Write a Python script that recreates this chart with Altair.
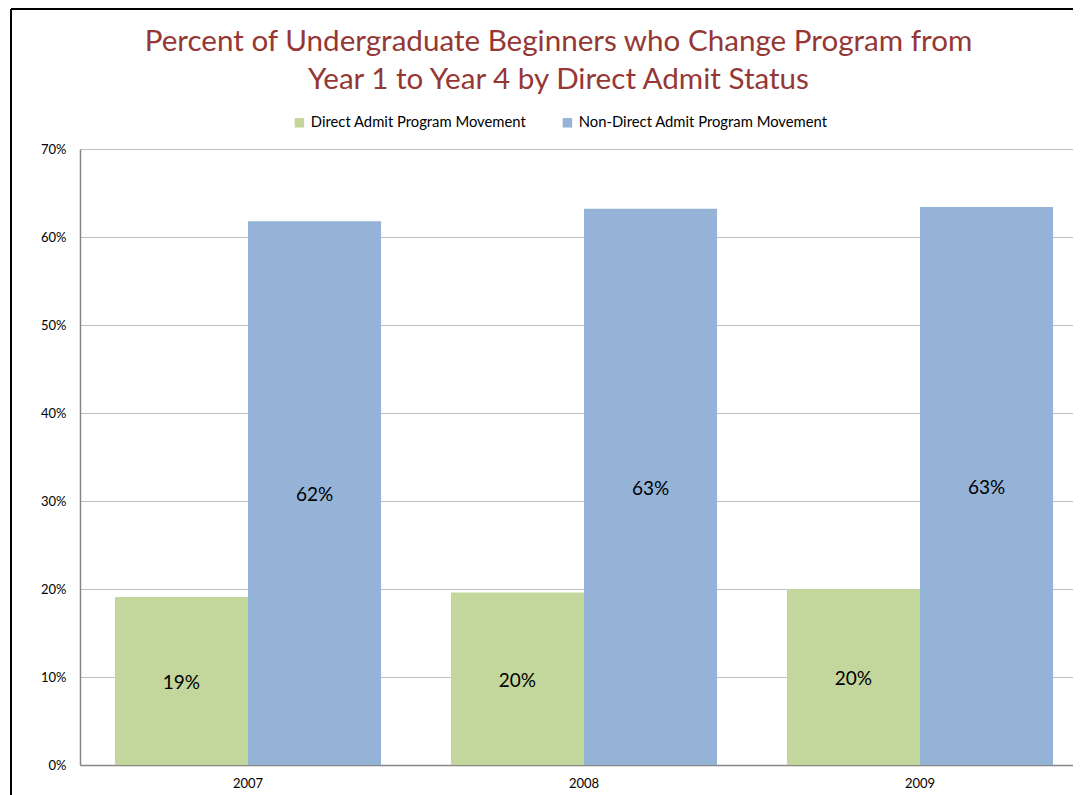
import altair as alt
import pandas as pd

years = ["2007", "2008", "2009"]
series = ["Direct Admit Program Movement", "Non-Direct Admit Program Movement"]
direct_vals = [0.191, 0.196, 0.200]
non_direct_vals = [0.618, 0.632, 0.634]
colors = ["#C3D69B", "#95B3D7"]
title_lines = ["Percent of Undergraduate Beginners who Change Program from",
               "Year 1 to Year 4 by Direct Admit Status"]

rows = []
for i, y in enumerate(years):
    rows.append({"year": y, "series": series[0], "value": direct_vals[i]})
    rows.append({"year": y, "series": series[1], "value": non_direct_vals[i]})
df = pd.DataFrame(rows)
title_df = pd.DataFrame({"line": title_lines, "row": [0, 1]})

FONT = "Lato"

x_enc = alt.X("year:N", sort=years, title=None,
              scale=alt.Scale(paddingInner=0.208, paddingOuter=0.104),
              axis=alt.Axis(labelAngle=0, labelFontSize=13, labelColor="black",
                            labelFont=FONT, ticks=False, domainColor="#868686",
                            labelPadding=12, grid=False))
xoff = alt.XOffset("series:N", sort=series, scale=alt.Scale(paddingInner=0, paddingOuter=0))

bars = alt.Chart(df).mark_bar().encode(
    x=x_enc,
    xOffset=xoff,
    y=alt.Y("value:Q", title=None,
            scale=alt.Scale(domain=[0, 0.7], nice=False),
            axis=alt.Axis(format=".0%", values=[0, 0.1, 0.2, 0.3, 0.4, 0.5, 0.6, 0.7],
                          labelFontSize=13, labelColor="black", labelFont=FONT,
                          ticks=False, domainColor="#868686", gridColor="#BFBFBF",
                          labelPadding=14)),
    color=alt.Color("series:N", sort=series,
                    scale=alt.Scale(domain=series, range=colors),
                    legend=alt.Legend(title=None, orient="none", direction="horizontal",
                                      legendX=212, legendY=-34, symbolType="square",
                                      symbolSize=90, symbolStrokeWidth=0,
                                      labelFontSize=14.8, labelFont=FONT, labelColor="black",
                                      labelLimit=0,
                                      columnPadding=33, symbolOffset=0, labelOffset=4)),
)

labels = alt.Chart(df).transform_calculate(
    mid="datum.value / 2"
).mark_text(fontSize=19, font=FONT, color="black", baseline="middle", dy=2).encode(
    x=alt.X("year:N", sort=years),
    xOffset=xoff,
    y=alt.Y("mid:Q"),
    text=alt.Text("value:Q", format=".0%"),
)

title = alt.Chart(title_df).transform_calculate(
    ty="-107 + datum.row * 38"
).mark_text(fontSize=29.6, font=FONT, color="#953735", baseline="middle",
            align="center", clip=False).encode(
    x=alt.value(478.5),
    y=alt.Y("ty:Q", scale=None),
    text="line:N",
)

frame_left = alt.Chart(df).mark_rule(color="black", strokeWidth=2, clip=False).encode(
    x=alt.value(-69), y=alt.value(-140), y2=alt.value(660))
frame_top = alt.Chart(df).mark_rule(color="black", strokeWidth=2, clip=False).encode(
    x=alt.value(-69), x2=alt.value(1020), y=alt.value(-140))

chart = alt.layer(bars, labels, title, frame_left, frame_top).properties(
    width=1008, height=616,
    autosize=alt.AutoSizeParams(type="none"),
    padding={"left": 72, "top": 141, "right": -15, "bottom": 30},
).configure_view(stroke=None).configure_axis(domainWidth=1.5)

chart.save("out.html", embed_options={"renderer": "svg", "actions": False})
